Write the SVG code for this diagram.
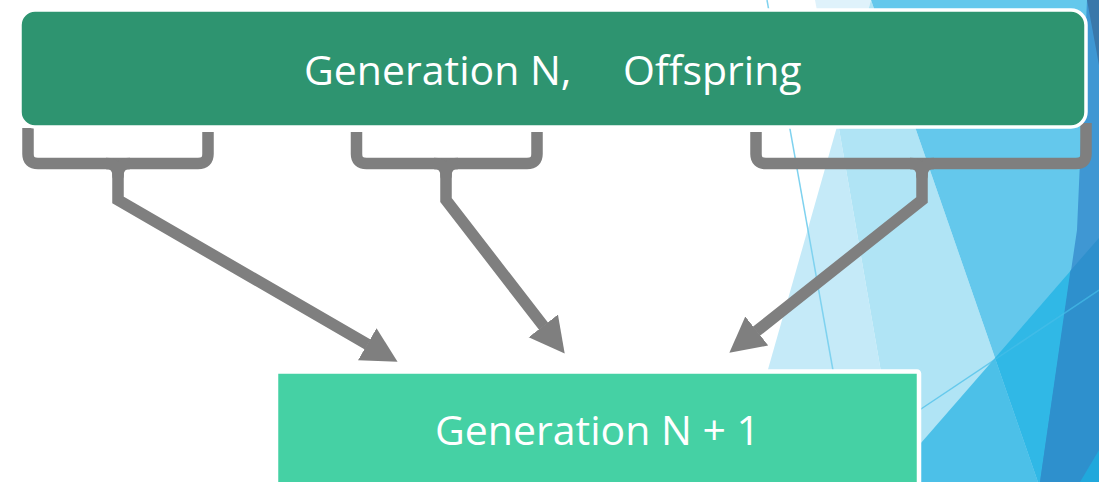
<svg xmlns="http://www.w3.org/2000/svg" width="1099" height="482" viewBox="0 0 1099 482">
  <defs>
    <style>
      .label { font-family: "Open Sans", "Liberation Sans", sans-serif; font-size: 41px; fill: #ffffff; }
      .link { fill: none; stroke: #7f7f7f; stroke-width: 11.5; }
      .brace { stroke-linejoin: round; stroke-linecap: butt; }
      .shaft { stroke-linejoin: miter; marker-end: url(#head); }
      .facet-line { fill: none; stroke-width: 1.5; }
    </style>
    <marker id="head" markerUnits="userSpaceOnUse" viewBox="0 0 36 38" markerWidth="36" markerHeight="38" refX="0.5" refY="19" orient="auto">
      <path d="M0,0.5 L35,19 L0,37.5 Z" fill="#7f7f7f"/>
    </marker>
  </defs>

  <!-- faceted background -->
  <g id="background">
    <rect x="0" y="0" width="1099" height="482" fill="#ffffff"/>
    <polygon points="815,0 871,0 838,123" fill="#dff2fb"/>
    <polygon points="838,123 900,482 736,482" fill="#c5eaf8"/>
    <polygon points="871,0 1038,482 900,482 838,123" fill="#b0e4f5"/>
    <polygon points="871,0 1099,0 1099,482 1038,482" fill="#64c8ec"/>
    <polygon points="995,358 1038,482 887,482" fill="#4cc0e8"/>
    <polygon points="995,358 1099,238 1099,482 1038,482" fill="#30b8e6"/>
    <polygon points="1087,0 1099,0 1099,482 1040,482 1077,230" fill="#3f97d3"/>
    <polygon points="1070.4,270.7 1099,238 1099,482 1040,482" fill="#2e90cd"/>
    <polygon points="1087,0 1099,0 1099,65" fill="#3a78aa"/>
    <polygon points="1080,482 1099,450 1099,482" fill="#20a8dc"/>
    <line class="facet-line" x1="767" y1="0" x2="834" y2="376" stroke="#7fd2ef"/>
    <line class="facet-line" x1="915" y1="413" x2="1099" y2="290" stroke="#46bde8" stroke-opacity="0.7"/>
  </g>

  <!-- connectors: braces gathering into arrows -->
  <g id="connectors">
    <path class="link brace" d="M28,128 V154 Q28,163.5 38,163.5 H198 Q208,163.5 208,154 V132"/>
    <path class="link brace" d="M106,163.5 Q118,163.5 118,176 Q118,163.5 130,163.5"/>
    <path class="link shaft" d="M118,172 V200 L367.7,344.5"/>

    <path class="link brace" d="M356.5,132 V154 Q356.5,163.5 366.5,163.5 H527 Q537,163.5 537,154 V132"/>
    <path class="link brace" d="M434,163.5 Q446,163.5 446,176 Q446,163.5 458,163.5"/>
    <path class="link shaft" d="M446,172 V200 L543.6,326.3"/>

    <path class="link brace" d="M756,132 V154 Q756,163.5 766,163.5 H1076 Q1086,163.5 1086,154 V123"/>
    <path class="link brace" d="M910,163.5 Q922,163.5 922,176 Q922,163.5 934,163.5"/>
    <path class="link shaft" d="M922,172 V200 L756.4,331.3"/>
  </g>

  <g id="node-generation-n">
    <rect x="20" y="10" width="1066" height="117" rx="15" ry="15" fill="#2e9470" stroke="#ffffff" stroke-width="3.5"/>
    <text class="label" y="85"><tspan x="304">Generation N,</tspan><tspan x="623">Offspring</tspan></text>
  </g>

  <g id="node-generation-n1">
    <rect x="276" y="371.5" width="643" height="130" rx="2" ry="2" fill="#45d1a4" stroke="#ffffff" stroke-width="4.5"/>
    <text class="label" x="597.5" y="445" text-anchor="middle">Generation N + 1</text>
  </g>
</svg>
